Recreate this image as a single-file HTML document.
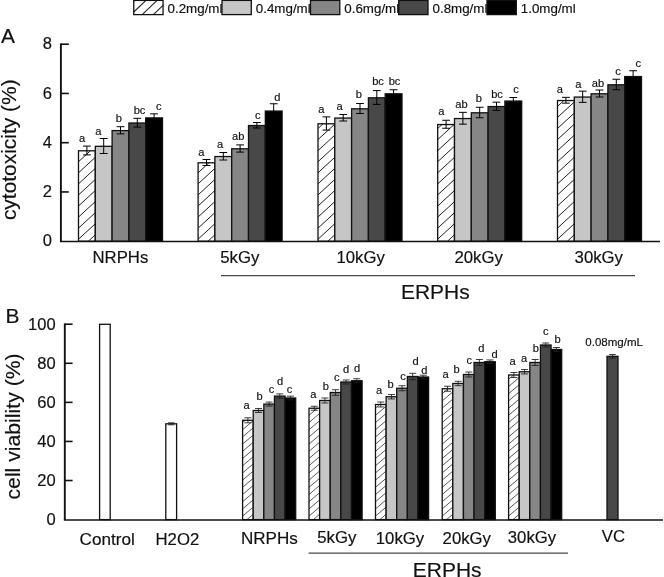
<!DOCTYPE html>
<html lang="en">
<head>
<meta charset="utf-8">
<title>Cytotoxicity and cell viability of NRPHs and ERPHs</title>
<style>
html,body{margin:0;padding:0;background:#fff;}
body{width:664px;height:577px;overflow:hidden;font-family:"Liberation Sans",sans-serif;}
svg{display:block;will-change:transform;}
text{stroke:#111;stroke-width:0.16px;}
</style>
</head>
<body>
<svg width="664" height="577" viewBox="0 0 664 577" font-family="Liberation Sans, sans-serif" fill="#111">
<rect x="133.75" y="0.4" width="29.30" height="14.20" fill="#fff"/>
<path d="M153.33 14.60L163.05 5.36M142.17 14.60L157.12 0.40M133.75 12.00L145.96 0.40M133.75 1.40L134.80 0.40" stroke="#222" stroke-width="1.1" fill="none"/>
<rect x="133.75" y="0.4" width="29.30" height="14.20" fill="none" stroke="#111" stroke-width="1.3"/>
<text transform="translate(167.55,12.60) scale(1.06,1)" font-size="12.6" text-anchor="start" >0.2mg/ml</text>
<rect x="222.0" y="0.4" width="29.30" height="14.20" fill="#c6c6c6" stroke="#111" stroke-width="1.3"/>
<text transform="translate(255.80,12.60) scale(1.06,1)" font-size="12.6" text-anchor="start" >0.4mg/ml</text>
<rect x="310.5" y="0.4" width="29.30" height="14.20" fill="#868686" stroke="#111" stroke-width="1.3"/>
<text transform="translate(344.30,12.60) scale(1.06,1)" font-size="12.6" text-anchor="start" >0.6mg/ml</text>
<rect x="398.7" y="0.4" width="29.30" height="14.20" fill="#484848" stroke="#111" stroke-width="1.3"/>
<text transform="translate(432.50,12.60) scale(1.06,1)" font-size="12.6" text-anchor="start" >0.8mg/ml</text>
<rect x="487.0" y="0.4" width="29.30" height="14.20" fill="#000000" stroke="#111" stroke-width="1.3"/>
<text transform="translate(520.80,12.60) scale(1.06,1)" font-size="12.6" text-anchor="start" >1.0mg/ml</text>
<rect x="78.50" y="150.80" width="16.80" height="90.40" fill="#fff"/>
<path d="M88.36 241.20L95.30 234.81M78.50 239.20L95.30 223.74M78.50 228.13L95.30 212.67M78.50 217.06L95.30 201.60M78.50 205.99L95.30 190.53M78.50 194.92L95.30 179.46M78.50 183.85L95.30 168.39M78.50 172.78L95.30 157.32M78.50 161.71L90.36 150.80" stroke="#222" stroke-width="1.0" fill="none"/>
<rect x="78.50" y="150.80" width="16.80" height="90.40" fill="none" stroke="#111" stroke-width="1.3"/>
<rect x="95.30" y="146.30" width="16.80" height="94.90" fill="#c6c6c6" stroke="#111" stroke-width="1.3"/>
<rect x="112.10" y="130.60" width="16.80" height="110.60" fill="#868686" stroke="#111" stroke-width="1.3"/>
<rect x="128.90" y="123.00" width="16.80" height="118.20" fill="#484848" stroke="#111" stroke-width="1.3"/>
<rect x="145.70" y="117.90" width="16.80" height="123.30" fill="#000000" stroke="#111" stroke-width="1.3"/>
<path d="M86.90 146.10V154.90M83.00 146.10H90.80M83.00 154.90H90.80" stroke="#000" stroke-width="1.0" fill="none"/>
<path d="M103.70 138.50V153.50M99.80 138.50H107.60M99.80 153.50H107.60" stroke="#000" stroke-width="1.0" fill="none"/>
<path d="M120.50 126.70V133.90M116.60 126.70H124.40M116.60 133.90H124.40" stroke="#000" stroke-width="1.0" fill="none"/>
<path d="M137.30 118.30V127.10M133.40 118.30H141.20M133.40 127.10H141.20" stroke="#000" stroke-width="1.0" fill="none"/>
<path d="M154.10 113.85V121.35M150.20 113.85H158.00M150.20 121.35H158.00" stroke="#000" stroke-width="1.0" fill="none"/>
<text transform="translate(82.00,141.60) scale(1.06,1)" font-size="10.5" text-anchor="middle" >a</text>
<text transform="translate(98.25,134.60) scale(1.06,1)" font-size="10.5" text-anchor="middle" >a</text>
<text transform="translate(118.75,122.10) scale(1.06,1)" font-size="10.5" text-anchor="middle" >b</text>
<text transform="translate(139.50,114.10) scale(1.06,1)" font-size="10.5" text-anchor="middle" >bc</text>
<text transform="translate(158.75,110.10) scale(1.06,1)" font-size="10.5" text-anchor="middle" >c</text>
<rect x="198.10" y="162.80" width="16.80" height="78.40" fill="#fff"/>
<path d="M207.96 241.20L214.90 234.81M198.10 239.20L214.90 223.74M198.10 228.13L214.90 212.67M198.10 217.06L214.90 201.60M198.10 205.99L214.90 190.53M198.10 194.92L214.90 179.46M198.10 183.85L214.90 168.39M198.10 172.78L208.95 162.80" stroke="#222" stroke-width="1.0" fill="none"/>
<rect x="198.10" y="162.80" width="16.80" height="78.40" fill="none" stroke="#111" stroke-width="1.3"/>
<rect x="214.90" y="156.55" width="16.80" height="84.65" fill="#c6c6c6" stroke="#111" stroke-width="1.3"/>
<rect x="231.70" y="148.80" width="16.80" height="92.40" fill="#868686" stroke="#111" stroke-width="1.3"/>
<rect x="248.50" y="125.55" width="16.80" height="115.65" fill="#484848" stroke="#111" stroke-width="1.3"/>
<rect x="265.30" y="111.05" width="16.80" height="130.15" fill="#000000" stroke="#111" stroke-width="1.3"/>
<path d="M206.50 159.50V165.50M202.60 159.50H210.40M202.60 165.50H210.40" stroke="#000" stroke-width="1.0" fill="none"/>
<path d="M223.30 152.50V160.00M219.40 152.50H227.20M219.40 160.00H227.20" stroke="#000" stroke-width="1.0" fill="none"/>
<path d="M240.10 144.90V152.10M236.20 144.90H244.00M236.20 152.10H244.00" stroke="#000" stroke-width="1.0" fill="none"/>
<path d="M256.90 122.50V128.00M253.00 122.50H260.80M253.00 128.00H260.80" stroke="#000" stroke-width="1.0" fill="none"/>
<path d="M273.70 103.75V117.75M269.80 103.75H277.60M269.80 117.75H277.60" stroke="#000" stroke-width="1.0" fill="none"/>
<text transform="translate(201.25,155.60) scale(1.06,1)" font-size="10.5" text-anchor="middle" >a</text>
<text transform="translate(220.00,148.35) scale(1.06,1)" font-size="10.5" text-anchor="middle" >a</text>
<text transform="translate(238.25,140.10) scale(1.06,1)" font-size="10.5" text-anchor="middle" >ab</text>
<text transform="translate(257.75,118.85) scale(1.06,1)" font-size="10.5" text-anchor="middle" >c</text>
<text transform="translate(277.30,100.50) scale(1.06,1)" font-size="10.5" text-anchor="middle" >d</text>
<rect x="318.00" y="123.80" width="16.80" height="117.40" fill="#fff"/>
<path d="M327.86 241.20L334.80 234.81M318.00 239.20L334.80 223.74M318.00 228.13L334.80 212.67M318.00 217.06L334.80 201.60M318.00 205.99L334.80 190.53M318.00 194.92L334.80 179.46M318.00 183.85L334.80 168.39M318.00 172.78L334.80 157.32M318.00 161.71L334.80 146.25M318.00 150.64L334.80 135.18M318.00 139.57L334.80 124.11M318.00 128.50L323.11 123.80" stroke="#222" stroke-width="1.0" fill="none"/>
<rect x="318.00" y="123.80" width="16.80" height="117.40" fill="none" stroke="#111" stroke-width="1.3"/>
<rect x="334.80" y="118.05" width="16.80" height="123.15" fill="#c6c6c6" stroke="#111" stroke-width="1.3"/>
<rect x="351.60" y="108.80" width="16.80" height="132.40" fill="#868686" stroke="#111" stroke-width="1.3"/>
<rect x="368.40" y="97.80" width="16.80" height="143.40" fill="#484848" stroke="#111" stroke-width="1.3"/>
<rect x="385.20" y="93.80" width="16.80" height="147.40" fill="#000000" stroke="#111" stroke-width="1.3"/>
<path d="M326.40 116.90V130.10M322.50 116.90H330.30M322.50 130.10H330.30" stroke="#000" stroke-width="1.0" fill="none"/>
<path d="M343.20 114.50V121.00M339.30 114.50H347.10M339.30 121.00H347.10" stroke="#000" stroke-width="1.0" fill="none"/>
<path d="M360.00 103.50V113.50M356.10 103.50H363.90M356.10 113.50H363.90" stroke="#000" stroke-width="1.0" fill="none"/>
<path d="M376.80 90.60V104.40M372.90 90.60H380.70M372.90 104.40H380.70" stroke="#000" stroke-width="1.0" fill="none"/>
<path d="M393.60 89.75V97.25M389.70 89.75H397.50M389.70 97.25H397.50" stroke="#000" stroke-width="1.0" fill="none"/>
<text transform="translate(321.25,112.85) scale(1.06,1)" font-size="10.5" text-anchor="middle" >a</text>
<text transform="translate(339.50,109.60) scale(1.06,1)" font-size="10.5" text-anchor="middle" >a</text>
<text transform="translate(358.75,98.35) scale(1.06,1)" font-size="10.5" text-anchor="middle" >b</text>
<text transform="translate(378.00,85.35) scale(1.06,1)" font-size="10.5" text-anchor="middle" >bc</text>
<text transform="translate(394.50,85.35) scale(1.06,1)" font-size="10.5" text-anchor="middle" >bc</text>
<rect x="437.70" y="124.55" width="16.80" height="116.65" fill="#fff"/>
<path d="M447.56 241.20L454.50 234.81M437.70 239.20L454.50 223.74M437.70 228.13L454.50 212.67M437.70 217.06L454.50 201.60M437.70 205.99L454.50 190.53M437.70 194.92L454.50 179.46M437.70 183.85L454.50 168.39M437.70 172.78L454.50 157.32M437.70 161.71L454.50 146.25M437.70 150.64L454.50 135.18M437.70 139.57L454.03 124.55M437.70 128.50L441.99 124.55" stroke="#222" stroke-width="1.0" fill="none"/>
<rect x="437.70" y="124.55" width="16.80" height="116.65" fill="none" stroke="#111" stroke-width="1.3"/>
<rect x="454.50" y="118.55" width="16.80" height="122.65" fill="#c6c6c6" stroke="#111" stroke-width="1.3"/>
<rect x="471.30" y="112.80" width="16.80" height="128.40" fill="#868686" stroke="#111" stroke-width="1.3"/>
<rect x="488.10" y="106.55" width="16.80" height="134.65" fill="#484848" stroke="#111" stroke-width="1.3"/>
<rect x="504.90" y="101.05" width="16.80" height="140.15" fill="#000000" stroke="#111" stroke-width="1.3"/>
<path d="M446.10 120.25V128.25M442.20 120.25H450.00M442.20 128.25H450.00" stroke="#000" stroke-width="1.0" fill="none"/>
<path d="M462.90 112.35V124.15M459.00 112.35H466.80M459.00 124.15H466.80" stroke="#000" stroke-width="1.0" fill="none"/>
<path d="M479.70 107.25V117.75M475.80 107.25H483.60M475.80 117.75H483.60" stroke="#000" stroke-width="1.0" fill="none"/>
<path d="M496.50 102.15V110.35M492.60 102.15H500.40M492.60 110.35H500.40" stroke="#000" stroke-width="1.0" fill="none"/>
<path d="M513.30 97.50V104.00M509.40 97.50H517.20M509.40 104.00H517.20" stroke="#000" stroke-width="1.0" fill="none"/>
<text transform="translate(441.25,115.10) scale(1.06,1)" font-size="10.5" text-anchor="middle" >a</text>
<text transform="translate(461.50,107.60) scale(1.06,1)" font-size="10.5" text-anchor="middle" >ab</text>
<text transform="translate(478.75,101.60) scale(1.06,1)" font-size="10.5" text-anchor="middle" >b</text>
<text transform="translate(497.00,97.60) scale(1.06,1)" font-size="10.5" text-anchor="middle" >bc</text>
<text transform="translate(516.00,93.35) scale(1.06,1)" font-size="10.5" text-anchor="middle" >c</text>
<rect x="557.50" y="100.55" width="16.80" height="140.65" fill="#fff"/>
<path d="M567.36 241.20L574.30 234.81M557.50 239.20L574.30 223.74M557.50 228.13L574.30 212.67M557.50 217.06L574.30 201.60M557.50 205.99L574.30 190.53M557.50 194.92L574.30 179.46M557.50 183.85L574.30 168.39M557.50 172.78L574.30 157.32M557.50 161.71L574.30 146.25M557.50 150.64L574.30 135.18M557.50 139.57L574.30 124.11M557.50 128.50L574.30 113.04M557.50 117.43L574.30 101.97M557.50 106.36L563.82 100.55" stroke="#222" stroke-width="1.0" fill="none"/>
<rect x="557.50" y="100.55" width="16.80" height="140.65" fill="none" stroke="#111" stroke-width="1.3"/>
<rect x="574.30" y="97.05" width="16.80" height="144.15" fill="#c6c6c6" stroke="#111" stroke-width="1.3"/>
<rect x="591.10" y="93.80" width="16.80" height="147.40" fill="#868686" stroke="#111" stroke-width="1.3"/>
<rect x="607.90" y="84.80" width="16.80" height="156.40" fill="#484848" stroke="#111" stroke-width="1.3"/>
<rect x="624.70" y="76.55" width="16.80" height="164.65" fill="#000000" stroke="#111" stroke-width="1.3"/>
<path d="M565.90 97.35V103.15M562.00 97.35H569.80M562.00 103.15H569.80" stroke="#000" stroke-width="1.0" fill="none"/>
<path d="M582.70 91.15V102.35M578.80 91.15H586.60M578.80 102.35H586.60" stroke="#000" stroke-width="1.0" fill="none"/>
<path d="M599.50 90.00V97.00M595.60 90.00H603.40M595.60 97.00H603.40" stroke="#000" stroke-width="1.0" fill="none"/>
<path d="M616.30 79.25V89.75M612.40 79.25H620.20M612.40 89.75H620.20" stroke="#000" stroke-width="1.0" fill="none"/>
<path d="M633.10 70.75V81.75M629.20 70.75H637.00M629.20 81.75H637.00" stroke="#000" stroke-width="1.0" fill="none"/>
<text transform="translate(559.75,92.85) scale(1.06,1)" font-size="10.5" text-anchor="middle" >a</text>
<text transform="translate(578.25,87.60) scale(1.06,1)" font-size="10.5" text-anchor="middle" >a</text>
<text transform="translate(598.00,86.60) scale(1.06,1)" font-size="10.5" text-anchor="middle" >ab</text>
<text transform="translate(618.00,74.60) scale(1.06,1)" font-size="10.5" text-anchor="middle" >c</text>
<text transform="translate(638.25,66.60) scale(1.06,1)" font-size="10.5" text-anchor="middle" >c</text>
<path d="M60.9 43.400000000000006V241.5" stroke="#111" stroke-width="1.9" fill="none"/>
<path d="M59.95 241.5H660" stroke="#111" stroke-width="1.5" fill="none"/>
<path d="M61.0 191.95H68.8" stroke="#111" stroke-width="1.6" fill="none"/>
<path d="M61.0 142.70H68.8" stroke="#111" stroke-width="1.6" fill="none"/>
<path d="M61.0 93.45H68.8" stroke="#111" stroke-width="1.6" fill="none"/>
<path d="M61.0 44.20H68.8" stroke="#111" stroke-width="1.6" fill="none"/>
<text transform="translate(52.00,246.40) scale(1.06,1)" font-size="15.6" text-anchor="end" >0</text>
<text transform="translate(52.00,197.15) scale(1.06,1)" font-size="15.6" text-anchor="end" >2</text>
<text transform="translate(52.00,147.90) scale(1.06,1)" font-size="15.6" text-anchor="end" >4</text>
<text transform="translate(52.00,98.65) scale(1.06,1)" font-size="15.6" text-anchor="end" >6</text>
<text transform="translate(52.00,49.40) scale(1.06,1)" font-size="15.6" text-anchor="end" >8</text>
<text transform="translate(1.00,42.90) scale(1.06,1)" font-size="19.8" text-anchor="start" >A</text>
<text transform="translate(15.7,220.1) rotate(-90) scale(1.032,1)" font-size="20.3">cytotoxicity (%)</text>
<text transform="translate(92.50,263.20) scale(1.06,1)" font-size="15.8" text-anchor="start" >NRPHs</text>
<text transform="translate(220.30,263.20) scale(1.06,1)" font-size="15.8" text-anchor="start" >5kGy</text>
<text transform="translate(336.50,263.20) scale(1.06,1)" font-size="15.8" text-anchor="start" >10kGy</text>
<text transform="translate(454.50,263.20) scale(1.06,1)" font-size="15.8" text-anchor="start" >20kGy</text>
<text transform="translate(574.60,263.20) scale(1.06,1)" font-size="15.8" text-anchor="start" >30kGy</text>
<path d="M221 275.6H635" stroke="#4a4a4a" stroke-width="1.1" fill="none"/>
<text transform="translate(401.00,299.30) scale(1.07,1)" font-size="19.6" text-anchor="start" >ERPHs</text>
<rect x="99.6" y="324.3" width="10.60" height="195.30" fill="#fff" stroke="#111" stroke-width="1.3"/>
<rect x="165.8" y="423.8" width="10.80" height="95.80" fill="#fff" stroke="#111" stroke-width="1.3"/>
<path d="M171.20 422.80V424.80M167.95 422.80H174.45M167.95 424.80H174.45" stroke="#1c1c1c" stroke-width="0.85" fill="none"/>
<rect x="607.0" y="356.3" width="11.00" height="163.30" fill="#484848" stroke="#111" stroke-width="1.3"/>
<path d="M612.50 354.50V358.10M609.25 354.50H615.75M609.25 358.10H615.75" stroke="#1c1c1c" stroke-width="0.85" fill="none"/>
<rect x="242.60" y="420.30" width="10.62" height="99.30" fill="#fff"/>
<path d="M246.95 519.60L253.22 514.27M242.60 516.10L253.22 507.07M242.60 508.90L253.22 499.87M242.60 501.70L253.22 492.67M242.60 494.50L253.22 485.47M242.60 487.30L253.22 478.27M242.60 480.10L253.22 471.07M242.60 472.90L253.22 463.87M242.60 465.70L253.22 456.67M242.60 458.50L253.22 449.47M242.60 451.30L253.22 442.27M242.60 444.10L253.22 435.07M242.60 436.90L253.22 427.87M242.60 429.70L253.22 420.67M242.60 422.50L245.19 420.30" stroke="#222" stroke-width="0.75" fill="none"/>
<rect x="242.60" y="420.30" width="10.62" height="99.30" fill="none" stroke="#111" stroke-width="1.3"/>
<rect x="253.22" y="410.50" width="10.62" height="109.10" fill="#c6c6c6" stroke="#111" stroke-width="1.3"/>
<rect x="263.84" y="404.10" width="10.62" height="115.50" fill="#868686" stroke="#111" stroke-width="1.3"/>
<rect x="274.46" y="396.10" width="10.62" height="123.50" fill="#484848" stroke="#111" stroke-width="1.3"/>
<rect x="285.08" y="398.00" width="10.62" height="121.60" fill="#000000" stroke="#111" stroke-width="1.3"/>
<path d="M247.91 417.80V422.80M244.41 417.80H251.41M244.41 422.80H251.41" stroke="#1c1c1c" stroke-width="0.85" fill="none"/>
<path d="M258.53 408.50V412.50M255.03 408.50H262.03M255.03 412.50H262.03" stroke="#1c1c1c" stroke-width="0.85" fill="none"/>
<path d="M269.15 402.10V406.10M265.65 402.10H272.65M265.65 406.10H272.65" stroke="#1c1c1c" stroke-width="0.85" fill="none"/>
<path d="M279.77 393.90V398.30M276.27 393.90H283.27M276.27 398.30H283.27" stroke="#1c1c1c" stroke-width="0.85" fill="none"/>
<path d="M290.39 396.20V399.80M286.89 396.20H293.89M286.89 399.80H293.89" stroke="#1c1c1c" stroke-width="0.85" fill="none"/>
<text transform="translate(246.50,409.10) scale(1.06,1)" font-size="10.5" text-anchor="middle" >a</text>
<text transform="translate(259.50,400.10) scale(1.06,1)" font-size="10.5" text-anchor="middle" >b</text>
<text transform="translate(271.50,393.35) scale(1.06,1)" font-size="10.5" text-anchor="middle" >c</text>
<text transform="translate(280.00,385.10) scale(1.06,1)" font-size="10.5" text-anchor="middle" >d</text>
<text transform="translate(289.50,392.60) scale(1.06,1)" font-size="10.5" text-anchor="middle" >c</text>
<rect x="309.00" y="408.25" width="10.62" height="111.35" fill="#fff"/>
<path d="M313.35 519.60L319.62 514.27M309.00 516.10L319.62 507.07M309.00 508.90L319.62 499.87M309.00 501.70L319.62 492.67M309.00 494.50L319.62 485.47M309.00 487.30L319.62 478.27M309.00 480.10L319.62 471.07M309.00 472.90L319.62 463.87M309.00 465.70L319.62 456.67M309.00 458.50L319.62 449.47M309.00 451.30L319.62 442.27M309.00 444.10L319.62 435.07M309.00 436.90L319.62 427.87M309.00 429.70L319.62 420.67M309.00 422.50L319.62 413.47M309.00 415.30L317.29 408.25" stroke="#222" stroke-width="0.75" fill="none"/>
<rect x="309.00" y="408.25" width="10.62" height="111.35" fill="none" stroke="#111" stroke-width="1.3"/>
<rect x="319.62" y="400.50" width="10.62" height="119.10" fill="#c6c6c6" stroke="#111" stroke-width="1.3"/>
<rect x="330.24" y="392.50" width="10.62" height="127.10" fill="#868686" stroke="#111" stroke-width="1.3"/>
<rect x="340.86" y="382.00" width="10.62" height="137.60" fill="#484848" stroke="#111" stroke-width="1.3"/>
<rect x="351.48" y="380.75" width="10.62" height="138.85" fill="#000000" stroke="#111" stroke-width="1.3"/>
<path d="M314.31 406.25V410.25M310.81 406.25H317.81M310.81 410.25H317.81" stroke="#1c1c1c" stroke-width="0.85" fill="none"/>
<path d="M324.93 398.00V403.00M321.43 398.00H328.43M321.43 403.00H328.43" stroke="#1c1c1c" stroke-width="0.85" fill="none"/>
<path d="M335.55 389.70V395.30M332.05 389.70H339.05M332.05 395.30H339.05" stroke="#1c1c1c" stroke-width="0.85" fill="none"/>
<path d="M346.17 380.00V384.00M342.67 380.00H349.67M342.67 384.00H349.67" stroke="#1c1c1c" stroke-width="0.85" fill="none"/>
<path d="M356.79 378.75V382.75M353.29 378.75H360.29M353.29 382.75H360.29" stroke="#1c1c1c" stroke-width="0.85" fill="none"/>
<text transform="translate(313.25,397.60) scale(1.06,1)" font-size="10.5" text-anchor="middle" >a</text>
<text transform="translate(325.75,389.60) scale(1.06,1)" font-size="10.5" text-anchor="middle" >b</text>
<text transform="translate(336.75,380.85) scale(1.06,1)" font-size="10.5" text-anchor="middle" >c</text>
<text transform="translate(346.00,373.35) scale(1.06,1)" font-size="10.5" text-anchor="middle" >d</text>
<text transform="translate(357.00,372.10) scale(1.06,1)" font-size="10.5" text-anchor="middle" >d</text>
<rect x="375.50" y="404.50" width="10.62" height="115.10" fill="#fff"/>
<path d="M379.85 519.60L386.12 514.27M375.50 516.10L386.12 507.07M375.50 508.90L386.12 499.87M375.50 501.70L386.12 492.67M375.50 494.50L386.12 485.47M375.50 487.30L386.12 478.27M375.50 480.10L386.12 471.07M375.50 472.90L386.12 463.87M375.50 465.70L386.12 456.67M375.50 458.50L386.12 449.47M375.50 451.30L386.12 442.27M375.50 444.10L386.12 435.07M375.50 436.90L386.12 427.87M375.50 429.70L386.12 420.67M375.50 422.50L386.12 413.47M375.50 415.30L386.12 406.27M375.50 408.10L379.74 404.50" stroke="#222" stroke-width="0.75" fill="none"/>
<rect x="375.50" y="404.50" width="10.62" height="115.10" fill="none" stroke="#111" stroke-width="1.3"/>
<rect x="386.12" y="396.75" width="10.62" height="122.85" fill="#c6c6c6" stroke="#111" stroke-width="1.3"/>
<rect x="396.74" y="388.25" width="10.62" height="131.35" fill="#868686" stroke="#111" stroke-width="1.3"/>
<rect x="407.36" y="376.50" width="10.62" height="143.10" fill="#484848" stroke="#111" stroke-width="1.3"/>
<rect x="417.98" y="377.00" width="10.62" height="142.60" fill="#000000" stroke="#111" stroke-width="1.3"/>
<path d="M380.81 402.00V407.00M377.31 402.00H384.31M377.31 407.00H384.31" stroke="#1c1c1c" stroke-width="0.85" fill="none"/>
<path d="M391.43 394.55V398.95M387.93 394.55H394.93M387.93 398.95H394.93" stroke="#1c1c1c" stroke-width="0.85" fill="none"/>
<path d="M402.05 385.75V390.75M398.55 385.75H405.55M398.55 390.75H405.55" stroke="#1c1c1c" stroke-width="0.85" fill="none"/>
<path d="M412.67 373.30V379.70M409.17 373.30H416.17M409.17 379.70H416.17" stroke="#1c1c1c" stroke-width="0.85" fill="none"/>
<path d="M423.29 375.20V378.80M419.79 375.20H426.79M419.79 378.80H426.79" stroke="#1c1c1c" stroke-width="0.85" fill="none"/>
<text transform="translate(379.00,394.10) scale(1.06,1)" font-size="10.5" text-anchor="middle" >a</text>
<text transform="translate(390.50,387.60) scale(1.06,1)" font-size="10.5" text-anchor="middle" >b</text>
<text transform="translate(403.00,379.60) scale(1.06,1)" font-size="10.5" text-anchor="middle" >c</text>
<text transform="translate(415.50,365.35) scale(1.06,1)" font-size="10.5" text-anchor="middle" >d</text>
<text transform="translate(424.25,374.10) scale(1.06,1)" font-size="10.5" text-anchor="middle" >d</text>
<rect x="442.20" y="388.75" width="10.62" height="130.85" fill="#fff"/>
<path d="M446.55 519.60L452.82 514.27M442.20 516.10L452.82 507.07M442.20 508.90L452.82 499.87M442.20 501.70L452.82 492.67M442.20 494.50L452.82 485.47M442.20 487.30L452.82 478.27M442.20 480.10L452.82 471.07M442.20 472.90L452.82 463.87M442.20 465.70L452.82 456.67M442.20 458.50L452.82 449.47M442.20 451.30L452.82 442.27M442.20 444.10L452.82 435.07M442.20 436.90L452.82 427.87M442.20 429.70L452.82 420.67M442.20 422.50L452.82 413.47M442.20 415.30L452.82 406.27M442.20 408.10L452.82 399.07M442.20 400.90L452.82 391.87M442.20 393.70L448.02 388.75" stroke="#222" stroke-width="0.75" fill="none"/>
<rect x="442.20" y="388.75" width="10.62" height="130.85" fill="none" stroke="#111" stroke-width="1.3"/>
<rect x="452.82" y="383.50" width="10.62" height="136.10" fill="#c6c6c6" stroke="#111" stroke-width="1.3"/>
<rect x="463.44" y="374.50" width="10.62" height="145.10" fill="#868686" stroke="#111" stroke-width="1.3"/>
<rect x="474.06" y="362.50" width="10.62" height="157.10" fill="#484848" stroke="#111" stroke-width="1.3"/>
<rect x="484.68" y="361.75" width="10.62" height="157.85" fill="#000000" stroke="#111" stroke-width="1.3"/>
<path d="M447.51 386.25V391.25M444.01 386.25H451.01M444.01 391.25H451.01" stroke="#1c1c1c" stroke-width="0.85" fill="none"/>
<path d="M458.13 381.30V385.70M454.63 381.30H461.63M454.63 385.70H461.63" stroke="#1c1c1c" stroke-width="0.85" fill="none"/>
<path d="M468.75 372.00V377.00M465.25 372.00H472.25M465.25 377.00H472.25" stroke="#1c1c1c" stroke-width="0.85" fill="none"/>
<path d="M479.37 359.50V365.50M475.87 359.50H482.87M475.87 365.50H482.87" stroke="#1c1c1c" stroke-width="0.85" fill="none"/>
<path d="M489.99 359.95V363.55M486.49 359.95H493.49M486.49 363.55H493.49" stroke="#1c1c1c" stroke-width="0.85" fill="none"/>
<text transform="translate(445.50,378.35) scale(1.06,1)" font-size="10.5" text-anchor="middle" >a</text>
<text transform="translate(456.50,373.35) scale(1.06,1)" font-size="10.5" text-anchor="middle" >b</text>
<text transform="translate(469.25,363.85) scale(1.06,1)" font-size="10.5" text-anchor="middle" >c</text>
<text transform="translate(481.25,352.10) scale(1.06,1)" font-size="10.5" text-anchor="middle" >d</text>
<text transform="translate(494.50,357.85) scale(1.06,1)" font-size="10.5" text-anchor="middle" >d</text>
<rect x="508.60" y="375.00" width="10.62" height="144.60" fill="#fff"/>
<path d="M512.95 519.60L519.22 514.27M508.60 516.10L519.22 507.07M508.60 508.90L519.22 499.87M508.60 501.70L519.22 492.67M508.60 494.50L519.22 485.47M508.60 487.30L519.22 478.27M508.60 480.10L519.22 471.07M508.60 472.90L519.22 463.87M508.60 465.70L519.22 456.67M508.60 458.50L519.22 449.47M508.60 451.30L519.22 442.27M508.60 444.10L519.22 435.07M508.60 436.90L519.22 427.87M508.60 429.70L519.22 420.67M508.60 422.50L519.22 413.47M508.60 415.30L519.22 406.27M508.60 408.10L519.22 399.07M508.60 400.90L519.22 391.87M508.60 393.70L519.22 384.67M508.60 386.50L519.22 377.47M508.60 379.30L513.66 375.00" stroke="#222" stroke-width="0.75" fill="none"/>
<rect x="508.60" y="375.00" width="10.62" height="144.60" fill="none" stroke="#111" stroke-width="1.3"/>
<rect x="519.22" y="371.75" width="10.62" height="147.85" fill="#c6c6c6" stroke="#111" stroke-width="1.3"/>
<rect x="529.84" y="362.50" width="10.62" height="157.10" fill="#868686" stroke="#111" stroke-width="1.3"/>
<rect x="540.46" y="345.00" width="10.62" height="174.60" fill="#484848" stroke="#111" stroke-width="1.3"/>
<rect x="551.08" y="349.50" width="10.62" height="170.10" fill="#000000" stroke="#111" stroke-width="1.3"/>
<path d="M513.91 372.50V377.50M510.41 372.50H517.41M510.41 377.50H517.41" stroke="#1c1c1c" stroke-width="0.85" fill="none"/>
<path d="M524.53 369.55V373.95M521.03 369.55H528.03M521.03 373.95H528.03" stroke="#1c1c1c" stroke-width="0.85" fill="none"/>
<path d="M535.15 359.50V365.50M531.65 359.50H538.65M531.65 365.50H538.65" stroke="#1c1c1c" stroke-width="0.85" fill="none"/>
<path d="M545.77 343.00V347.00M542.27 343.00H549.27M542.27 347.00H549.27" stroke="#1c1c1c" stroke-width="0.85" fill="none"/>
<path d="M556.39 347.50V351.50M552.89 347.50H559.89M552.89 351.50H559.89" stroke="#1c1c1c" stroke-width="0.85" fill="none"/>
<text transform="translate(512.50,365.10) scale(1.06,1)" font-size="10.5" text-anchor="middle" >a</text>
<text transform="translate(524.00,361.60) scale(1.06,1)" font-size="10.5" text-anchor="middle" >a</text>
<text transform="translate(535.75,352.10) scale(1.06,1)" font-size="10.5" text-anchor="middle" >b</text>
<text transform="translate(545.75,335.10) scale(1.06,1)" font-size="10.5" text-anchor="middle" >c</text>
<text transform="translate(557.50,343.35) scale(1.06,1)" font-size="10.5" text-anchor="middle" >b</text>
<path d="M64.8 323.4V519.9" stroke="#111" stroke-width="1.9" fill="none"/>
<path d="M63.849999999999994 519.9H663" stroke="#111" stroke-width="1.5" fill="none"/>
<path d="M64.8 480.52H72.6" stroke="#111" stroke-width="1.6" fill="none"/>
<path d="M64.8 441.44H72.6" stroke="#111" stroke-width="1.6" fill="none"/>
<path d="M64.8 402.36H72.6" stroke="#111" stroke-width="1.6" fill="none"/>
<path d="M64.8 363.28H72.6" stroke="#111" stroke-width="1.6" fill="none"/>
<path d="M64.8 324.20H72.6" stroke="#111" stroke-width="1.6" fill="none"/>
<text transform="translate(55.70,525.00) scale(1.06,1)" font-size="15.6" text-anchor="end" >0</text>
<text transform="translate(55.70,485.92) scale(1.06,1)" font-size="15.6" text-anchor="end" >20</text>
<text transform="translate(55.70,446.84) scale(1.06,1)" font-size="15.6" text-anchor="end" >40</text>
<text transform="translate(55.70,407.76) scale(1.06,1)" font-size="15.6" text-anchor="end" >60</text>
<text transform="translate(55.70,368.68) scale(1.06,1)" font-size="15.6" text-anchor="end" >80</text>
<text transform="translate(55.70,329.60) scale(1.06,1)" font-size="15.6" text-anchor="end" >100</text>
<text transform="translate(5.60,323.00) scale(1.06,1)" font-size="19.8" text-anchor="start" >B</text>
<text transform="translate(20.4,499.5) rotate(-90) scale(1.02,1)" font-size="20.8">cell viability (%)</text>
<text transform="translate(585.30,346.40) scale(1.06,1)" font-size="10.9" text-anchor="start" >0.08mg/mL</text>
<text transform="translate(79.60,545.00) scale(1.085,1)" font-size="15.8" text-anchor="start" >Control</text>
<text transform="translate(155.50,545.00) scale(1.06,1)" font-size="15.8" text-anchor="start" >H2O2</text>
<text transform="translate(240.90,543.80) scale(1.08,1)" font-size="15.8" text-anchor="start" >NRPHs</text>
<text transform="translate(317.30,542.60) scale(1.06,1)" font-size="15.8" text-anchor="start" >5kGy</text>
<text transform="translate(375.80,544.40) scale(1.06,1)" font-size="15.8" text-anchor="start" >10kGy</text>
<text transform="translate(442.60,543.80) scale(1.06,1)" font-size="15.8" text-anchor="start" >20kGy</text>
<text transform="translate(507.80,542.80) scale(1.06,1)" font-size="15.8" text-anchor="start" >30kGy</text>
<text transform="translate(601.80,542.00) scale(1.06,1)" font-size="15.8" text-anchor="start" >VC</text>
<path d="M308.6 553.1H568" stroke="#4a4a4a" stroke-width="1.1" fill="none"/>
<text transform="translate(412.80,577.20) scale(1.07,1)" font-size="19.6" text-anchor="start" >ERPHs</text>
</svg>
</body>
</html>
